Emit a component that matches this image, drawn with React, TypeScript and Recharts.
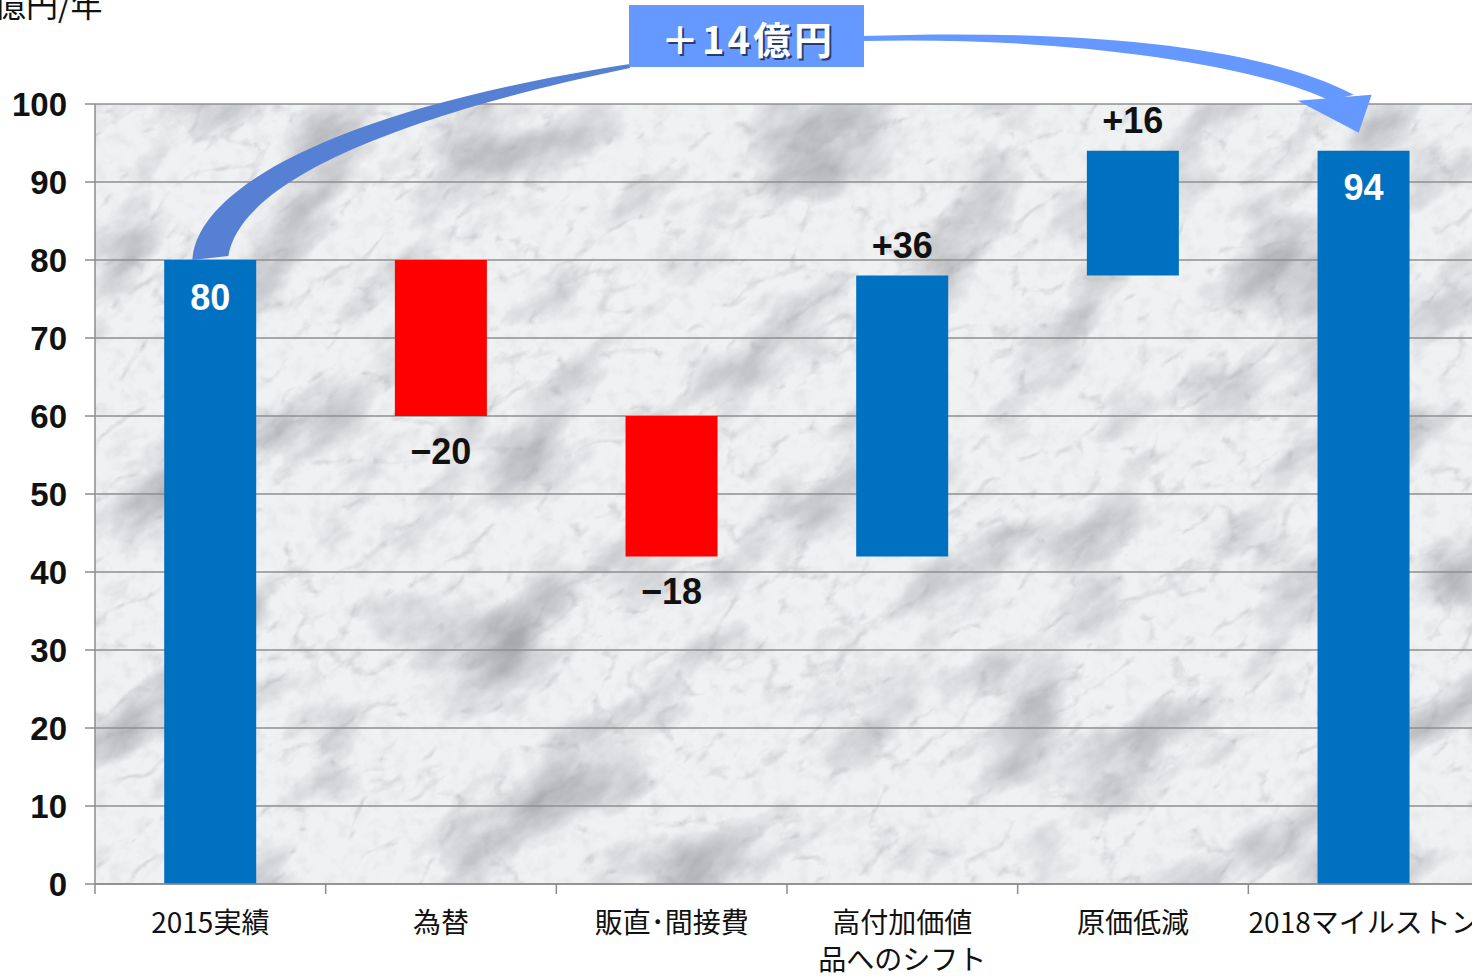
import { Bar, BarChart, CartesianGrid, Cell, LabelList, XAxis, YAxis } from "recharts";

const categories = ["2015実績", "為替", "販直･間接費", "高付加価値\n品へのシフト", "原価低減", "2018マイルストン"];
const changes = [80, -20, -18, 36, 16, 94];
const kinds = ["total", "step", "step", "step", "step", "total"];
const valueLabels = ["80", "−20", "−18", "+36", "+16", "94"];
const yTicks = [0, 10, 20, 30, 40, 50, 60, 70, 80, 90, 100];
const unitLabel = "億円/年";
const gapLabel = "＋14億円";

const BLUE = "#0070C0";
const RED = "#FF0000";

// chart frame
const W = 1490;
const H = 976;
const TOP = 104;
const LEFT = 95;
const RIGHT = 11;
const XAXIS_H = 92;
const PLOT_W = W - LEFT - RIGHT;
const PLOT_H = H - TOP - XAXIS_H;
const BAND = PLOT_W / categories.length;
const PLOT_BOTTOM = TOP + PLOT_H;

const xCenter = (i: number) => LEFT + BAND * (i + 0.5);
const yOf = (v: number) => TOP + PLOT_H * (1 - v / 100);

let running = 0;
const data = categories.map((name, i) => {
  const c = changes[i];
  let base = 0;
  let size = 0;
  if (kinds[i] === "total") {
    base = 0;
    size = c;
    running = c;
  } else {
    const next = running + c;
    base = Math.min(running, next);
    size = Math.abs(c);
    running = next;
  }
  return { name, base, size, change: c, kind: kinds[i], label: valueLabels[i] };
});

function XTick(props: any) {
  const { x, payload } = props;
  const lines = String(payload.value).split("\n");
  return (
    <g>
      <line x1={x - BAND / 2} x2={x - BAND / 2} y1={PLOT_BOTTOM} y2={PLOT_BOTTOM + 10} stroke="#8c8c8c" strokeWidth={1.5} />
      {lines.map((l, k) => (
        <text
          key={k}
          x={x}
          y={PLOT_BOTTOM + 37 + k * 37}
          textAnchor="middle"
          dominantBaseline="central"
          fontFamily="'Noto Sans CJK JP', sans-serif"
          fontSize={28}
          fill="#111"
        >
          {l}
        </text>
      ))}
    </g>
  );
}

function BarLabel(props: any) {
  const { x, y, width, height, index } = props;
  const d = data[index];
  const cx = x + width / 2;
  let ty = y - 30;
  let color = "#111";
  if (d.kind === "total") {
    ty = y + 37;
    color = "#fff";
  } else if (d.change < 0) {
    ty = y + height + 35;
  }
  return (
    <text
      x={cx}
      y={ty}
      textAnchor="middle"
      dominantBaseline="central"
      fontFamily="'Liberation Sans', Arial, sans-serif"
      fontWeight="bold"
      fontSize={36}
      fill={color}
    >
      {d.label}
    </text>
  );
}

function Marble() {
  return (
    <svg width={PLOT_W} height={PLOT_H} style={{ position: "absolute", left: LEFT, top: TOP }}>
      <defs>
        <filter id="marble" x="0" y="0" width="1" height="1">
          <feTurbulence type="fractalNoise" baseFrequency="0.007 0.013" numOctaves={6} seed={11} result="n" />
          <feColorMatrix
            in="n"
            type="matrix"
            values="0 0 0 0 0.40  0 0 0 0 0.41  0 0 0 0 0.43  -2.4 0 0 0 1.22"
          />
        </filter>
        <filter id="veins" x="0" y="0" width="1" height="1">
          <feTurbulence type="turbulence" baseFrequency="0.012 0.02" numOctaves={4} seed={5} result="t" />
          <feColorMatrix in="t" type="matrix" values="0 0 0 0 0.35  0 0 0 0 0.36  0 0 0 0 0.38  -4 0 0 0 0.7" />
        </filter>
        <filter id="grain" x="0" y="0" width="1" height="1">
          <feTurbulence type="fractalNoise" baseFrequency="0.07" numOctaves={3} seed={2} result="g" />
          <feColorMatrix in="g" type="matrix" values="0 0 0 0 0.5  0 0 0 0 0.5  0 0 0 0 0.52  -1.6 0 0 0 0.85" />
        </filter>
      </defs>
      <rect x={0} y={0} width={PLOT_W} height={PLOT_H} fill="#f0f1f3" />
      <g transform={`rotate(-35 ${PLOT_W / 2} ${PLOT_H / 2})`}>
        <rect x={-400} y={-500} width={PLOT_W + 800} height={PLOT_H + 1000} filter="url(#marble)" />
        <rect x={-400} y={-500} width={PLOT_W + 800} height={PLOT_H + 1000} filter="url(#veins)" opacity={0.5} />
      </g>
      <rect x={0} y={0} width={PLOT_W} height={PLOT_H} filter="url(#grain)" opacity={0.3} />
    </svg>
  );
}

function Overlay() {
  const sx = xCenter(0);
  const sy = yOf(changes[0]);
  const ex = xCenter(5);
  const ey = yOf(94);
  return (
    <svg width={1472} height={976} style={{ position: "absolute", left: 0, top: 0, pointerEvents: "none" }}>
      <text x={-6} y={17} fontFamily="'Noto Sans CJK JP', sans-serif" fontSize={32} fill="#111">
        {unitLabel}
      </text>
      <path
        d={`M${sx - 18},${sy} C${sx - 14},${sy - 70} ${sx + 120},${sy - 150} 630,64 L630,68 C${sx + 170},${sy - 140} ${sx + 30},${sy - 75} ${sx + 18},${sy - 4} Z`}
        fill="#5580D4"
      />
      <path
        d={`M862,36 C1050,30 1250,40 ${ex - 10},${ey - 56} L${ex - 34},${ey - 50} C1250,62 1050,36 862,41 Z`}
        fill="#6699FF"
      />
      <polygon points={`${ex - 66},${ey - 50} ${ex + 8},${ey - 56} ${ex - 5},${ey - 18}`} fill="#6699FF" />
      <rect x={629} y={5} width={235} height={62} fill="#6699FF" />
      <text
        x={750}
        y={39}
        textAnchor="middle"
        dominantBaseline="central"
        fontFamily="'Noto Sans CJK JP', sans-serif"
        fontWeight="bold"
        fontSize={38}
        letterSpacing={3}
        fill="#2b3a66"
      >
        {gapLabel}
      </text>
      <text
        x={748}
        y={37}
        textAnchor="middle"
        dominantBaseline="central"
        fontFamily="'Noto Sans CJK JP', sans-serif"
        fontWeight="bold"
        fontSize={38}
        letterSpacing={3}
        fill="#fff"
      >
        {gapLabel}
      </text>
    </svg>
  );
}

export default function App() {
  return (
    <div style={{ position: "absolute", left: 0, top: 0, width: 1472, height: 976, overflow: "hidden", background: "#fff" }}>
      <Marble />
      <div style={{ position: "absolute", left: 0, top: 0 }}>
        <BarChart
          width={W}
          height={H}
          data={data}
          margin={{ top: TOP, right: RIGHT, left: 0, bottom: 0 }}
          barCategoryGap="30%"
        >
          <CartesianGrid horizontal vertical={false} stroke="#8f8f8f" strokeWidth={1.5} />
          <XAxis
            dataKey="name"
            height={XAXIS_H}
            interval={0}
            tickLine={false}
            axisLine={{ stroke: "#8c8c8c", strokeWidth: 1.5 }}
            tick={<XTick />}
          />
          <YAxis
            width={LEFT}
            domain={[0, 100]}
            ticks={yTicks}
            tickSize={10}
            tickMargin={18}
            axisLine={{ stroke: "#8c8c8c", strokeWidth: 1.5 }}
            tickLine={{ stroke: "#8c8c8c", strokeWidth: 1.5 }}
            tick={{ fill: "#111", fontSize: 33, fontWeight: "bold", fontFamily: "'Liberation Sans', Arial, sans-serif" }}
          />
          <Bar dataKey="base" stackId="w" fill="transparent" isAnimationActive={false} />
          <Bar dataKey="size" stackId="w" isAnimationActive={false}>
            {data.map((d, i) => (
              <Cell key={i} fill={d.change < 0 ? RED : BLUE} />
            ))}
            <LabelList dataKey="size" content={<BarLabel />} />
          </Bar>
        </BarChart>
      </div>
      <Overlay />
    </div>
  );
}
